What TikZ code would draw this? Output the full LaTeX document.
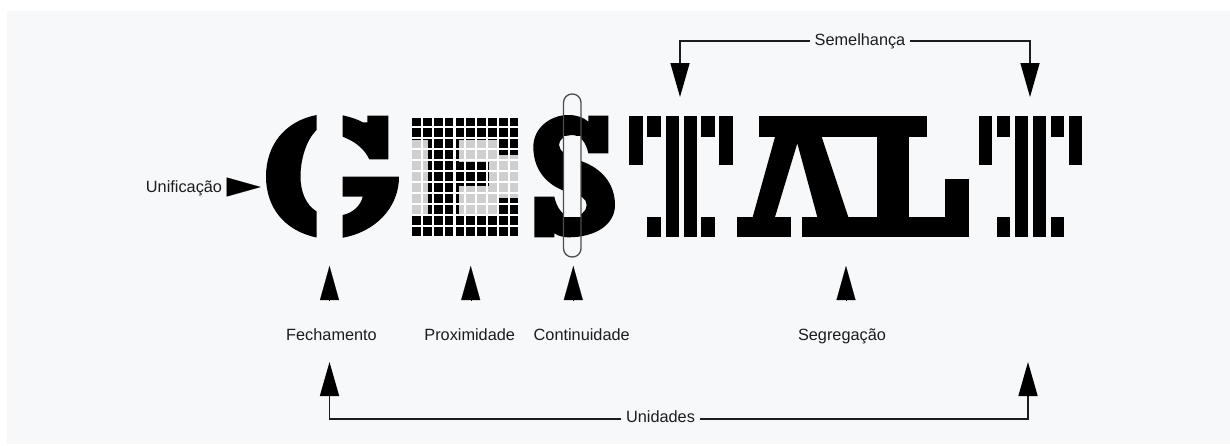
\documentclass[tikz,border=0pt]{standalone}
\usepackage{fontspec}
\setmainfont{Liberation Sans}
\usetikzlibrary{arrows.meta}
\definecolor{panel}{HTML}{F7F8FA}
\definecolor{ink}{HTML}{000000}
\definecolor{txt}{HTML}{1C1C1C}
\definecolor{cellgrey}{HTML}{CFCFCF}
\tikzset{
  lbl/.style={font=\fontsize{16.3}{18}\selectfont,text=txt,inner sep=0pt,anchor=base},
  conn/.style={draw=txt,line width=1.6pt,line join=miter,-{Triangle[length=34pt,width=19pt,color=ink]}},
  shortarrow/.style={draw=ink,line width=0.1pt,-{Triangle[length=34pt,width=19pt,color=ink]}},
  glyph/.style={fill=ink,draw=none},
  gap/.style={fill=panel,draw=none},
  gridline/.style={draw=white,line width=2.1pt},
}
\begin{document}
\begin{tikzpicture}[x=1pt,y=-1pt]
\useasboundingbox (0,0) rectangle (1230,445);
\fill[white] (0,0) rectangle (1230,445);
\fill[panel] (7,11) rectangle (1230,444);

% G
\fill[glyph] (316.7,115) .. controls (285,121) and (266,145) .. (266,176.5)
  .. controls (266,208) and (285,231) .. (316.7,237.5) -- (316.7,211.5)
  .. controls (306,205) and (300.5,192) .. (300.5,176.5)
  .. controls (300.5,160) and (306,140) .. (316.7,130) -- cycle;
\fill[glyph] (342.7,115.3) .. controls (350,117) and (357,119) .. (362.7,122.3)
  -- (367.3,122.3) -- (367.3,115.7) -- (388.3,115.7) -- (388.3,159.3) -- (369.3,159.3)
  .. controls (364,148) and (354,141) .. (342.7,136.7) -- cycle;
\fill[glyph] (342.7,176.7) -- (399,176.7) .. controls (399,208) and (375,232) .. (342.7,237.7)
  -- (342.7,215) .. controls (353,213) and (361,205) .. (362.7,196.7) -- (342.7,196.7) -- cycle;

% E
\fill[glyph] (412.3,117.7) rectangle (518.4,139.7);
\fill[glyph] (412.3,213.7) rectangle (518.4,235.7);
\fill[cellgrey] (412.3,139.7) rectangle (518.4,213.7);
\fill[glyph] (427.7,139.7) rectangle (459,213.7);
\fill[glyph] (459,162.3) rectangle (489,186);
\fill[glyph] (499,139.7) rectangle (518.4,155);
\fill[glyph] (499,198.3) rectangle (518.4,213.7);
\foreach \i in {1,...,9} \draw[gridline] ({412.3+10.9*\i-1.45},116) -- ({412.3+10.9*\i-1.45},237);
\foreach \j in {1,...,10} \draw[gridline] (411,{117.7+11*\j-1.5}) -- (520,{117.7+11*\j-1.5});

% S
\begin{scope}[shift={(500,80)},x=0.3333pt,y=-0.3333pt]
\fill[glyph] (325,107) -- (325,220) -- (265,220) .. controls (258,185) and (240,165) .. (215,165)
  .. controls (195,165) and (177,178) .. (177,195)
  .. controls (177,215) and (200,225) .. (260,250)
  .. controls (315,275) and (345,320) .. (345,375)
  .. controls (345,435) and (285,472) .. (205,472)
  .. controls (190,472) and (175,468) .. (163,460) -- (163,472) -- (103,472) -- (103,350) -- (163,350)
  .. controls (170,385) and (190,410) .. (215,410)
  .. controls (240,410) and (260,395) .. (260,375)
  .. controls (260,355) and (240,345) .. (215,340)
  .. controls (140,320) and (100,270) .. (100,200)
  .. controls (100,145) and (150,105) .. (205,105)
  .. controls (230,105) and (250,112) .. (265,125) -- (265,107) -- cycle;
\end{scope}
\fill[gap] (564,136) rectangle (580.5,216.5);
\draw[draw=black!70,line width=1.3pt,rounded corners=8.5pt] (563.5,94) rectangle (581,257);

% first T
\foreach \a/\b/\c/\d in {629.3/643.3/116/165, 647.3/660.7/116/136.7, 665.7/679/116/237.3, 683.7/696.7/116/237.3, 701.3/714.7/116/136.7, 719.3/732.7/116/165, 647.3/660.7/216.7/237.3, 701.3/714.7/216.7/237.3}
  \fill[glyph] (\a,\c) rectangle (\b,\d);

% A and L
\fill[glyph] (759.3,116) rectangle (927.3,137.3);
\fill[glyph] (737.3,216.7) rectangle (790.7,237.3);
\fill[glyph] (802.3,216.7) rectangle (968.7,237.3);
\fill[glyph] (944.7,179.3) rectangle (968.7,237.3);
\fill[glyph] (877.3,137) rectangle (909.3,217);
\fill[glyph] (775,137) -- (752.7,217) -- (775,217) -- (797.3,143.3) -- (817.3,217) -- (848.3,217) -- (821.7,137) -- cycle;

% second T
\foreach \a/\b/\c/\d in {978.7/992/116/165, 996.7/1010/116/136.7, 1014.7/1028/116/237.3, 1032.7/1045.7/116/237.3, 1050.7/1064/116/136.7, 1068.7/1082.3/116/165, 996.7/1010/216.7/237.3, 1050.7/1064/216.7/237.3}
  \fill[glyph] (\a,\c) rectangle (\b,\d);

% labels
\node[lbl] (unif) at (184,192) {Unificação};
\node[lbl] (fech) at (331.5,340.5) {Fechamento};
\node[lbl] (prox) at (469.7,340.5) {Proximidade};
\node[lbl] (cont) at (581.7,340.5) {Continuidade};
\node[lbl] (segr) at (842,340.5) {Segregação};
\node[lbl,inner xsep=4.5pt] (unid) at (660.5,422) {Unidades};
\node[lbl,inner xsep=4.5pt] (seme) at (860,45.5) {Semelhança};

% free arrow ends
\coordinate (uA) at (226.7,187); \coordinate (uB) at (260.7,187);
\coordinate (fA) at (329.5,300); \coordinate (fB) at (329.5,266);
\coordinate (pA) at (470.7,300); \coordinate (pB) at (470.7,266);
\coordinate (cA) at (573.3,300); \coordinate (cB) at (573.3,266);
\coordinate (sA) at (846,300); \coordinate (sB) at (846,266);
\coordinate (semL) at (680,97); \coordinate (semR) at (1030,97);
\coordinate (uniL) at (329.5,362); \coordinate (uniR) at (1028,362);

\draw[shortarrow] (uA) -- (uB);
\draw[shortarrow] (fA) -- (fB);
\draw[shortarrow] (pA) -- (pB);
\draw[shortarrow] (cA) -- (cB);
\draw[shortarrow] (sA) -- (sB);

\draw[conn] (seme.west |- 0,41) -| (semL);
\draw[conn] (seme.east |- 0,41) -| (semR);
\draw[conn] (unid.west |- 0,419) -| (uniL);
\draw[conn] (unid.east |- 0,419) -| (uniR);
\end{tikzpicture}
\end{document}
